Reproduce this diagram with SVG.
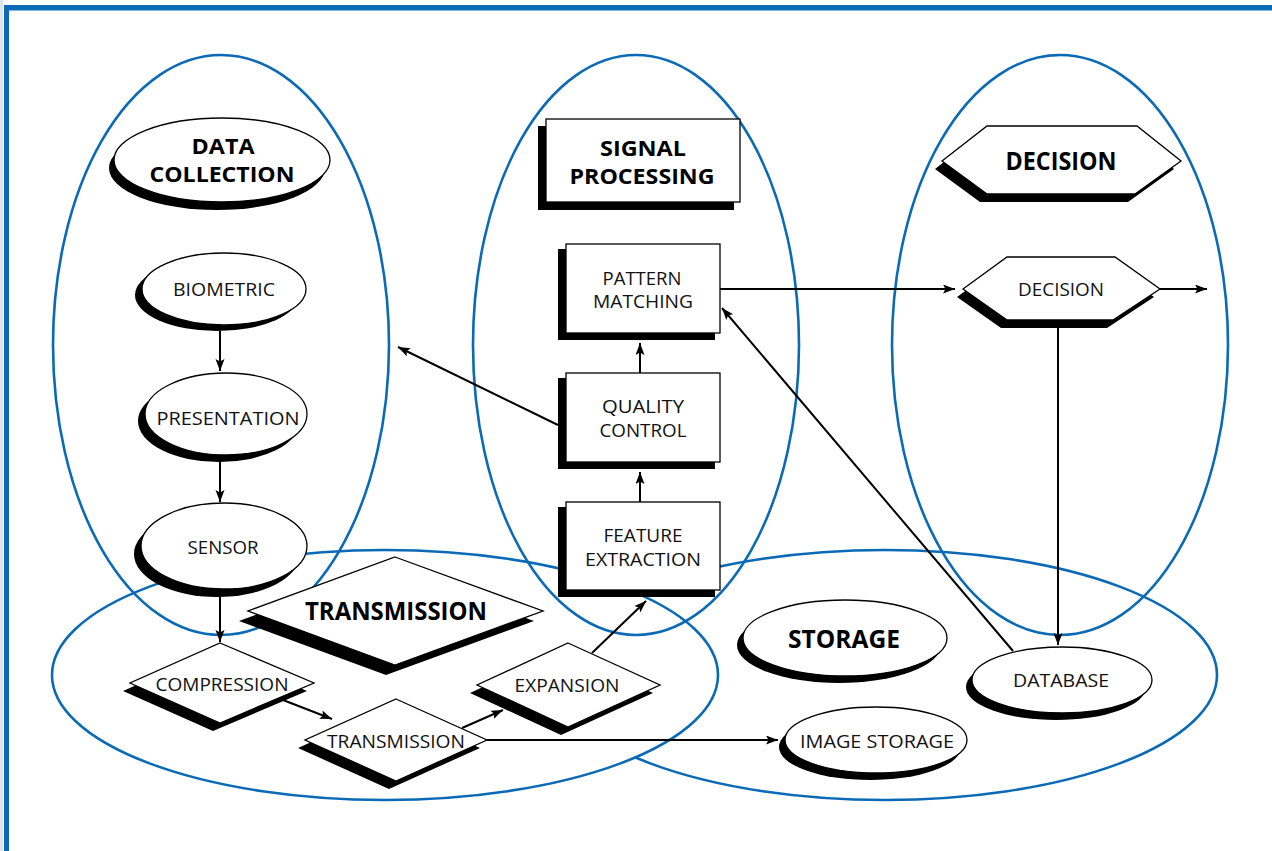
<svg xmlns="http://www.w3.org/2000/svg" width="1272" height="851" viewBox="0 0 1272 851">
  <defs>
    <style>
      .zone { fill: none; stroke: #0b6ab5; stroke-width: 2.6; }
      .zone-filled { fill: #fff; stroke: #0b6ab5; stroke-width: 2.6; }
      .sh { fill: #000; stroke: none; }
      .box { fill: #fff; stroke: #000; stroke-width: 1.3; }
      .link { fill: none; stroke: #000; stroke-width: 2; marker-end: url(#arrow); }
      .t { font-family: "Open Sans", "Liberation Sans", sans-serif; font-size: 18px; fill: #111; text-anchor: middle; }
      .h { font-family: "Open Sans", "Liberation Sans", sans-serif; font-size: 25px; font-weight: bold; fill: #000; text-anchor: middle; }
      .h2 { font-family: "Open Sans", "Liberation Sans", sans-serif; font-size: 22px; font-weight: bold; fill: #000; text-anchor: middle; }
    </style>
    <marker id="arrow" markerUnits="userSpaceOnUse" markerWidth="13" markerHeight="10" refX="12" refY="4.5" orient="auto">
      <path d="M0,0 L12,4.5 L0,9 L2.5,4.5 z" fill="#000"/>
    </marker>
  </defs>

  <!-- page frame -->
  <rect x="0" y="0" width="1272" height="851" fill="#fff"/>
  <rect x="0" y="0" width="3" height="851" fill="#dde3f1"/>
  <rect x="4" y="5" width="1268" height="5" fill="#0b6ab5"/>
  <rect x="4" y="10" width="1268" height="1" fill="#86b4de"/>
  <rect x="4" y="5" width="5" height="846" fill="#0b6ab5"/>

  <!-- functional zones: storage first, transmission filled so it hides storage's left arc -->
  <g id="zones">
    <ellipse class="zone" cx="885" cy="675" rx="332" ry="125"/>
    <ellipse class="zone-filled" cx="385" cy="675" rx="333" ry="125"/>
    <ellipse class="zone" cx="221" cy="345" rx="168" ry="290"/>
    <ellipse class="zone" cx="636" cy="345" rx="163" ry="290"/>
    <ellipse class="zone" cx="1060" cy="345" rx="168" ry="290"/>
  </g>

  <!-- connectors -->
  <g id="connectors">
    <line class="link" x1="220" y1="331" x2="220" y2="371"/>
    <line class="link" x1="220" y1="461" x2="220" y2="502"/>
    <line class="link" x1="220" y1="597" x2="220" y2="642"/>
    <line class="link" x1="283" y1="700" x2="332" y2="719"/>
    <line class="link" x1="462" y1="728" x2="503" y2="710"/>
    <line class="link" x1="592" y1="653" x2="646" y2="601"/>
    <line class="link" x1="487" y1="740" x2="778" y2="740"/>
    <line class="link" x1="640" y1="502" x2="640" y2="472"/>
    <line class="link" x1="640" y1="373" x2="640" y2="343"/>
    <line class="link" x1="558" y1="425" x2="398" y2="347"/>
    <line class="link" x1="720" y1="289" x2="955" y2="289"/>
    <line class="link" x1="1160" y1="289" x2="1207" y2="289"/>
    <line class="link" x1="1058" y1="320" x2="1058" y2="645"/>
    <line class="link" x1="1013" y1="651" x2="722" y2="308"/>
  </g>

  <!-- data collection -->
  <g id="title-data-collection">
    <ellipse class="sh" cx="217" cy="168" rx="108" ry="42"/>
    <ellipse class="box" cx="222" cy="160" rx="108" ry="42"/>
    <text class="h2"><tspan x="223" y="154" textLength="63" lengthAdjust="spacingAndGlyphs">DATA</tspan><tspan x="222" y="182" textLength="145" lengthAdjust="spacingAndGlyphs">COLLECTION</tspan></text>
  </g>
  <g id="node-biometric">
    <ellipse class="sh" cx="217" cy="295" rx="82" ry="36"/>
    <ellipse class="box" cx="224" cy="289" rx="82" ry="36"/>
    <text class="t" x="224" y="296" textLength="102" lengthAdjust="spacingAndGlyphs">BIOMETRIC</text>
  </g>
  <g id="node-presentation">
    <ellipse class="sh" cx="219" cy="421" rx="81" ry="41"/>
    <ellipse class="box" cx="226" cy="414" rx="81" ry="41"/>
    <text class="t" x="228" y="425" textLength="143" lengthAdjust="spacingAndGlyphs">PRESENTATION</text>
  </g>
  <g id="node-sensor">
    <ellipse class="sh" cx="217" cy="554" rx="83" ry="43"/>
    <ellipse class="box" cx="224" cy="546" rx="83" ry="43"/>
    <text class="t" x="223" y="554" textLength="71" lengthAdjust="spacingAndGlyphs">SENSOR</text>
  </g>

  <!-- signal processing -->
  <g id="title-signal-processing">
    <rect class="sh" x="538" y="126" width="196" height="84"/>
    <rect class="box" x="546" y="119" width="194" height="83"/>
    <text class="h2"><tspan x="643" y="156" textLength="86" lengthAdjust="spacingAndGlyphs">SIGNAL</tspan><tspan x="642" y="184" textLength="145" lengthAdjust="spacingAndGlyphs">PROCESSING</tspan></text>
  </g>
  <g id="node-pattern-matching">
    <rect class="sh" x="558" y="249" width="157" height="91"/>
    <rect class="box" x="566" y="244" width="154" height="89"/>
    <text class="t"><tspan x="642" y="285" textLength="79" lengthAdjust="spacingAndGlyphs">PATTERN</tspan><tspan x="643" y="308" textLength="100" lengthAdjust="spacingAndGlyphs">MATCHING</tspan></text>
  </g>
  <g id="node-quality-control">
    <rect class="sh" x="558" y="378" width="157" height="91"/>
    <rect class="box" x="566" y="373" width="154" height="89"/>
    <text class="t"><tspan x="643" y="413" textLength="82" lengthAdjust="spacingAndGlyphs">QUALITY</tspan><tspan x="643" y="437" textLength="87" lengthAdjust="spacingAndGlyphs">CONTROL</tspan></text>
  </g>
  <g id="node-feature-extraction">
    <rect class="sh" x="558" y="507" width="157" height="90"/>
    <rect class="box" x="566" y="502" width="154" height="88"/>
    <text class="t"><tspan x="643" y="542" textLength="79" lengthAdjust="spacingAndGlyphs">FEATURE</tspan><tspan x="643" y="566" textLength="116" lengthAdjust="spacingAndGlyphs">EXTRACTION</tspan></text>
  </g>

  <!-- decision -->
  <g id="title-decision">
    <polygon class="sh" points="935,169 980,134 1130,134 1174,169 1128,202 980,202"/>
    <polygon class="box" points="942,161 987,126 1137,126 1181,161 1135,194 987,194"/>
    <text class="h" x="1061" y="170" textLength="111" lengthAdjust="spacingAndGlyphs">DECISION</text>
  </g>
  <g id="node-decision">
    <polygon class="sh" points="957,297 1001,265 1109,265 1154,297 1107,328 1001,328"/>
    <polygon class="box" points="963,289 1007,257 1115,257 1160,289 1113,320 1007,320"/>
    <text class="t" x="1061" y="296" textLength="86" lengthAdjust="spacingAndGlyphs">DECISION</text>
  </g>

  <!-- transmission -->
  <g id="title-transmission">
    <polygon class="sh" points="386,567 534,621 386,675 239,621"/>
    <polygon class="box" points="395,557 543,611 395,665 248,611"/>
    <text class="h" x="396" y="620" textLength="182" lengthAdjust="spacingAndGlyphs">TRANSMISSION</text>
  </g>
  <g id="node-compression">
    <polygon class="sh" points="213,651 307,691 213,731 123,691"/>
    <polygon class="box" points="220,643 314,683 220,723 130,683"/>
    <text class="t" x="222" y="691" textLength="133" lengthAdjust="spacingAndGlyphs">COMPRESSION</text>
  </g>
  <g id="node-transmission">
    <polygon class="sh" points="389,707 480,748 389,789 298,748"/>
    <polygon class="box" points="396,699 487,740 396,781 305,740"/>
    <text class="t" x="396" y="748" textLength="138" lengthAdjust="spacingAndGlyphs">TRANSMISSION</text>
  </g>
  <g id="node-expansion">
    <polygon class="sh" points="561,651 653,693 561,735 470,693"/>
    <polygon class="box" points="568,643 660,685 568,727 477,685"/>
    <text class="t" x="567" y="692" textLength="105" lengthAdjust="spacingAndGlyphs">EXPANSION</text>
  </g>

  <!-- storage -->
  <g id="title-storage">
    <ellipse class="sh" cx="839" cy="645" rx="102" ry="38"/>
    <ellipse class="box" cx="845" cy="638" rx="102" ry="38"/>
    <text class="h" x="844" y="648" textLength="112" lengthAdjust="spacingAndGlyphs">STORAGE</text>
  </g>
  <g id="node-database">
    <ellipse class="sh" cx="1056" cy="687" rx="90" ry="33"/>
    <ellipse class="box" cx="1062" cy="680" rx="90" ry="33"/>
    <text class="t" x="1061" y="687" textLength="96" lengthAdjust="spacingAndGlyphs">DATABASE</text>
  </g>
  <g id="node-image-storage">
    <ellipse class="sh" cx="870" cy="747" rx="91" ry="33"/>
    <ellipse class="box" cx="876" cy="740" rx="91" ry="33"/>
    <text class="t" x="877" y="748" textLength="154" lengthAdjust="spacingAndGlyphs">IMAGE STORAGE</text>
  </g>
</svg>
